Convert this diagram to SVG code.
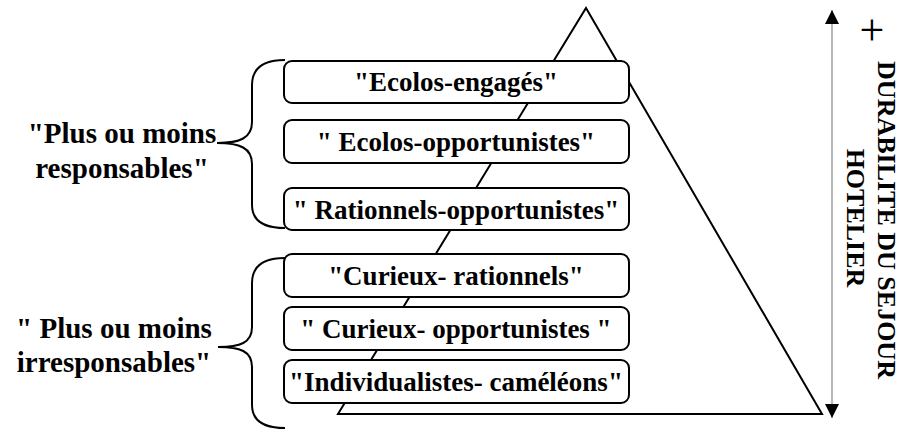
<svg xmlns="http://www.w3.org/2000/svg" width="906" height="430" viewBox="0 0 906 430">
<defs>
<style>
.box{fill:#fff;stroke:#000;stroke-width:2}
.t{font-family:"Liberation Serif","Times New Roman",serif;font-weight:bold;font-size:27px;fill:#000;text-anchor:middle}
.lbl{font-size:29px}
.ln{fill:none;stroke:#000;stroke-width:2}
</style>
<marker id="ah" viewBox="0 0 10 10" refX="10" refY="5" markerWidth="14" markerHeight="14" markerUnits="userSpaceOnUse" orient="auto-start-reverse">
<path d="M0,0 L10,5 L0,10 Z" fill="#000"/>
</marker>
</defs>
<g id="pyramid">
<path class="ln" d="M586,8 L822,414 L338,414 Z"/>
</g>
<g id="connectors">
<path class="ln" d="M285,60 Q252,60 252,85 L252,122 C252,138 240,143 217,143 C240,143 252,148 252,164 L252,205 Q252,228 285,228"/>
<path class="ln" d="M285,258 Q252,258 252,283 L252,327 C252,343 240,347 218,347 C240,347 252,351 252,367 L252,405 Q252,428 285,428"/>
<line x1="832" y1="10" x2="832" y2="418" stroke="#888" stroke-width="1.2" marker-start="url(#ah)" marker-end="url(#ah)"/>
</g>
<g id="n1"><rect class="box" x="284" y="61" width="345" height="42" rx="8"/><text class="t" x="456" y="91">"Ecolos-engagés"</text></g>
<g id="n2"><rect class="box" x="284" y="120" width="345" height="43" rx="8"/><text class="t" x="456" y="151">" Ecolos-opportunistes"</text></g>
<g id="n3"><rect class="box" x="284" y="188" width="345" height="42" rx="8"/><text class="t" x="456" y="219">" Rationnels-opportunistes"</text></g>
<g id="n4"><rect class="box" x="284" y="254" width="345" height="43" rx="8"/><text class="t" x="456" y="285">"Curieux- rationnels"</text></g>
<g id="n5"><rect class="box" x="284" y="307" width="345" height="43" rx="8"/><text class="t" x="456" y="338">" Curieux- opportunistes "</text></g>
<g id="n6"><rect class="box" x="284" y="360" width="345" height="43" rx="8"/><text class="t" x="456" y="391">"Individualistes- caméléons"</text></g>
<g id="label-resp">
<text class="t lbl" x="122" y="143">"Plus ou moins</text>
<text class="t lbl" x="122" y="178">responsables"</text>
</g>
<g id="label-irresp">
<text class="t lbl" x="114" y="338">" Plus ou moins</text>
<text class="t lbl" x="114" y="372">irresponsables"</text>
</g>
<g id="axis-labels">
<text x="872" y="45" style="font-family:'Liberation Serif',serif;font-size:44px;fill:#000;text-anchor:middle">+</text>
<text class="t" transform="translate(878,220) rotate(90)" x="0" y="0" style="font-size:26px">DURABILITE DU SEJOUR</text>
<text class="t" transform="translate(847,218) rotate(90)" x="0" y="0" style="font-size:26px">HOTELIER</text>
</g>
</svg>
